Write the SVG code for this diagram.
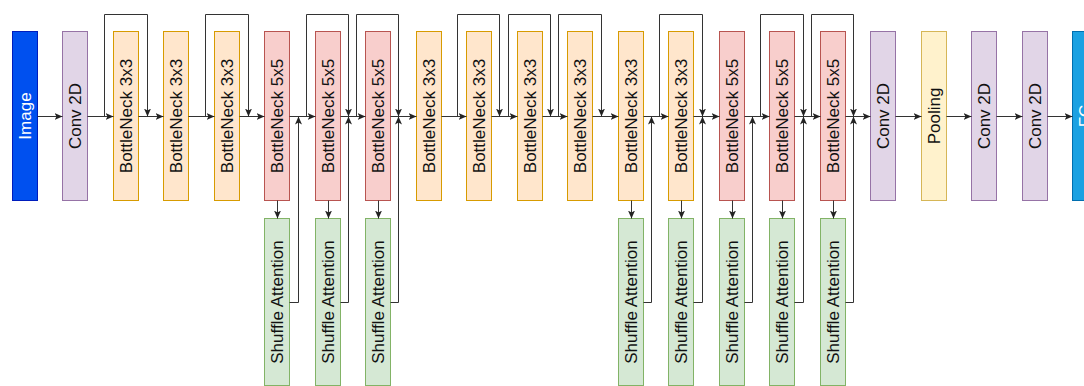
<svg xmlns="http://www.w3.org/2000/svg" width="1084" height="386" viewBox="0 0 1084 386">
<style>
text{font-family:"Liberation Sans",Arial,sans-serif;font-size:17px;text-anchor:middle;dominant-baseline:central;fill:#111}
.w{fill:#fff}
.img{fill:#0050ef;stroke:#001dbc}
.fc{fill:#1ba1e2;stroke:#006eaf}
.cv{fill:#e1d5e7;stroke:#9673a6}
.b3{fill:#ffe6cc;stroke:#d79b00}
.b5{fill:#f8cecc;stroke:#b85450}
.sa{fill:#d5e8d4;stroke:#82b366}
.pl{fill:#fff2cc;stroke:#d6b656}
.ln{fill:none;stroke:#333;stroke-width:1;marker-end:url(#ah)}
</style>
<defs>
<marker id="ah" markerUnits="userSpaceOnUse" markerWidth="8" markerHeight="7" refX="8" refY="3.5" orient="auto">
<path d="M0,0 L8,3.5 L0,7 L2,3.5 Z" fill="#222"/>
</marker>
</defs>
<g id="nodes">
<g id="image"><rect class="img" x="12.5" y="31.5" width="25" height="169"/><text class="w" x="25" y="116" transform="rotate(-90 25 116)">Image</text></g>
<g id="conv1"><rect class="cv" x="62.5" y="31.5" width="25" height="169"/><text x="75" y="116" transform="rotate(-90 75 116)">Conv 2D</text></g>
<g id="bn1"><rect class="b3" x="113.5" y="31.5" width="25" height="169"/><text x="126" y="116" transform="rotate(-90 126 116)">BottleNeck 3x3</text></g>
<g id="bn2"><rect class="b3" x="163.5" y="31.5" width="25" height="169"/><text x="176" y="116" transform="rotate(-90 176 116)">BottleNeck 3x3</text></g>
<g id="bn3"><rect class="b3" x="214.5" y="31.5" width="25" height="169"/><text x="227" y="116" transform="rotate(-90 227 116)">BottleNeck 3x3</text></g>
<g id="bn4"><rect class="b5" x="264.5" y="31.5" width="25" height="169"/><text x="277" y="116" transform="rotate(-90 277 116)">BottleNeck 5x5</text></g>
<g id="bn5"><rect class="b5" x="315.5" y="31.5" width="25" height="169"/><text x="328" y="116" transform="rotate(-90 328 116)">BottleNeck 5x5</text></g>
<g id="bn6"><rect class="b5" x="365.5" y="31.5" width="25" height="169"/><text x="378" y="116" transform="rotate(-90 378 116)">BottleNeck 5x5</text></g>
<g id="bn7"><rect class="b3" x="416.5" y="31.5" width="25" height="169"/><text x="429" y="116" transform="rotate(-90 429 116)">BottleNeck 3x3</text></g>
<g id="bn8"><rect class="b3" x="466.5" y="31.5" width="25" height="169"/><text x="479" y="116" transform="rotate(-90 479 116)">BottleNeck 3x3</text></g>
<g id="bn9"><rect class="b3" x="517.5" y="31.5" width="25" height="169"/><text x="530" y="116" transform="rotate(-90 530 116)">BottleNeck 3x3</text></g>
<g id="bn10"><rect class="b3" x="567.5" y="31.5" width="25" height="169"/><text x="580" y="116" transform="rotate(-90 580 116)">BottleNeck 3x3</text></g>
<g id="bn11"><rect class="b3" x="618.5" y="31.5" width="25" height="169"/><text x="631" y="116" transform="rotate(-90 631 116)">BottleNeck 3x3</text></g>
<g id="bn12"><rect class="b3" x="668.5" y="31.5" width="25" height="169"/><text x="681" y="116" transform="rotate(-90 681 116)">BottleNeck 3x3</text></g>
<g id="bn13"><rect class="b5" x="719.5" y="31.5" width="25" height="169"/><text x="732" y="116" transform="rotate(-90 732 116)">BottleNeck 5x5</text></g>
<g id="bn14"><rect class="b5" x="769.5" y="31.5" width="25" height="169"/><text x="782" y="116" transform="rotate(-90 782 116)">BottleNeck 5x5</text></g>
<g id="bn15"><rect class="b5" x="820.5" y="31.5" width="25" height="169"/><text x="833" y="116" transform="rotate(-90 833 116)">BottleNeck 5x5</text></g>
<g id="conv2"><rect class="cv" x="870.5" y="31.5" width="25" height="169"/><text x="883" y="116" transform="rotate(-90 883 116)">Conv 2D</text></g>
<g id="pool"><rect class="pl" x="921.5" y="31.5" width="25" height="169"/><text x="934" y="116" transform="rotate(-90 934 116)">Pooling</text></g>
<g id="conv3"><rect class="cv" x="971.5" y="31.5" width="25" height="169"/><text x="984" y="116" transform="rotate(-90 984 116)">Conv 2D</text></g>
<g id="conv4"><rect class="cv" x="1022.5" y="31.5" width="25" height="169"/><text x="1035" y="116" transform="rotate(-90 1035 116)">Conv 2D</text></g>
<g id="fc"><rect class="fc" x="1072.5" y="31.5" width="25" height="169"/><text class="w" x="1085" y="116" transform="rotate(-90 1085 116)">FC</text></g>
<g id="sa1"><rect class="sa" x="264.5" y="218.5" width="25" height="167"/><text x="277" y="302" transform="rotate(-90 277 302)">Shuffle Attention</text></g>
<g id="sa2"><rect class="sa" x="315.5" y="218.5" width="25" height="167"/><text x="328" y="302" transform="rotate(-90 328 302)">Shuffle Attention</text></g>
<g id="sa3"><rect class="sa" x="365.5" y="218.5" width="25" height="167"/><text x="378" y="302" transform="rotate(-90 378 302)">Shuffle Attention</text></g>
<g id="sa4"><rect class="sa" x="618.5" y="218.5" width="25" height="167"/><text x="631" y="302" transform="rotate(-90 631 302)">Shuffle Attention</text></g>
<g id="sa5"><rect class="sa" x="668.5" y="218.5" width="25" height="167"/><text x="681" y="302" transform="rotate(-90 681 302)">Shuffle Attention</text></g>
<g id="sa6"><rect class="sa" x="719.5" y="218.5" width="25" height="167"/><text x="732" y="302" transform="rotate(-90 732 302)">Shuffle Attention</text></g>
<g id="sa7"><rect class="sa" x="769.5" y="218.5" width="25" height="167"/><text x="782" y="302" transform="rotate(-90 782 302)">Shuffle Attention</text></g>
<g id="sa8"><rect class="sa" x="820.5" y="218.5" width="25" height="167"/><text x="833" y="302" transform="rotate(-90 833 302)">Shuffle Attention</text></g>
</g>
<g id="connectors">
<!-- main chain -->
<path class="ln" d="M37.5 116.5H62.5"/>
<path class="ln" d="M87.5 116.5H113.5"/>
<path class="ln" d="M138.5 116.5H163.5"/>
<path class="ln" d="M188.5 116.5H214.5"/>
<path class="ln" d="M239.5 116.5H264.5"/>
<path class="ln" d="M289.5 116.5H315.5"/>
<path class="ln" d="M340.5 116.5H365.5"/>
<path class="ln" d="M390.5 116.5H416.5"/>
<path class="ln" d="M441.5 116.5H466.5"/>
<path class="ln" d="M491.5 116.5H517.5"/>
<path class="ln" d="M542.5 116.5H567.5"/>
<path class="ln" d="M592.5 116.5H618.5"/>
<path class="ln" d="M643.5 116.5H668.5"/>
<path class="ln" d="M693.5 116.5H719.5"/>
<path class="ln" d="M744.5 116.5H769.5"/>
<path class="ln" d="M794.5 116.5H820.5"/>
<path class="ln" d="M845.5 116.5H870.5"/>
<path class="ln" d="M895.5 116.5H921.5"/>
<path class="ln" d="M946.5 116.5H971.5"/>
<path class="ln" d="M996.5 116.5H1022.5"/>
<path class="ln" d="M1047.5 116.5H1072.5"/>
<!-- top skips -->
<path class="ln" d="M104.5 116.5V14.5H147.5V116.5"/>
<path class="ln" d="M205.5 116.5V14.5H248.5V116.5"/>
<path class="ln" d="M306.5 116.5V14.5H348.5V116.5"/>
<path class="ln" d="M356.5 116.5V14.5H398.5V116.5"/>
<path class="ln" d="M457.5 116.5V14.5H499.5V116.5"/>
<path class="ln" d="M508.5 116.5V14.5H550.5V116.5"/>
<path class="ln" d="M558.5 116.5V14.5H601.5V116.5"/>
<path class="ln" d="M659.5 116.5V14.5H702.5V116.5"/>
<path class="ln" d="M760.5 116.5V14.5H803.5V116.5"/>
<path class="ln" d="M811.5 116.5V14.5H853.5V116.5"/>
<!-- down to attention -->
<path class="ln" d="M277.5 200.5V218.5"/>
<path class="ln" d="M328.5 200.5V218.5"/>
<path class="ln" d="M378.5 200.5V218.5"/>
<path class="ln" d="M631.5 200.5V218.5"/>
<path class="ln" d="M681.5 200.5V218.5"/>
<path class="ln" d="M732.5 200.5V218.5"/>
<path class="ln" d="M782.5 200.5V218.5"/>
<path class="ln" d="M833.5 200.5V218.5"/>
<!-- attention returns -->
<path class="ln" d="M289.5 302.5H298.5V116.5"/>
<path class="ln" d="M340.5 302.5H348.5V116.5"/>
<path class="ln" d="M390.5 302.5H398.5V116.5"/>
<path class="ln" d="M643.5 302.5H651.5V116.5"/>
<path class="ln" d="M693.5 302.5H702.5V116.5"/>
<path class="ln" d="M744.5 302.5H752.5V116.5"/>
<path class="ln" d="M794.5 302.5H803.5V116.5"/>
<path class="ln" d="M845.5 302.5H853.5V116.5"/>
</g>
</svg>
